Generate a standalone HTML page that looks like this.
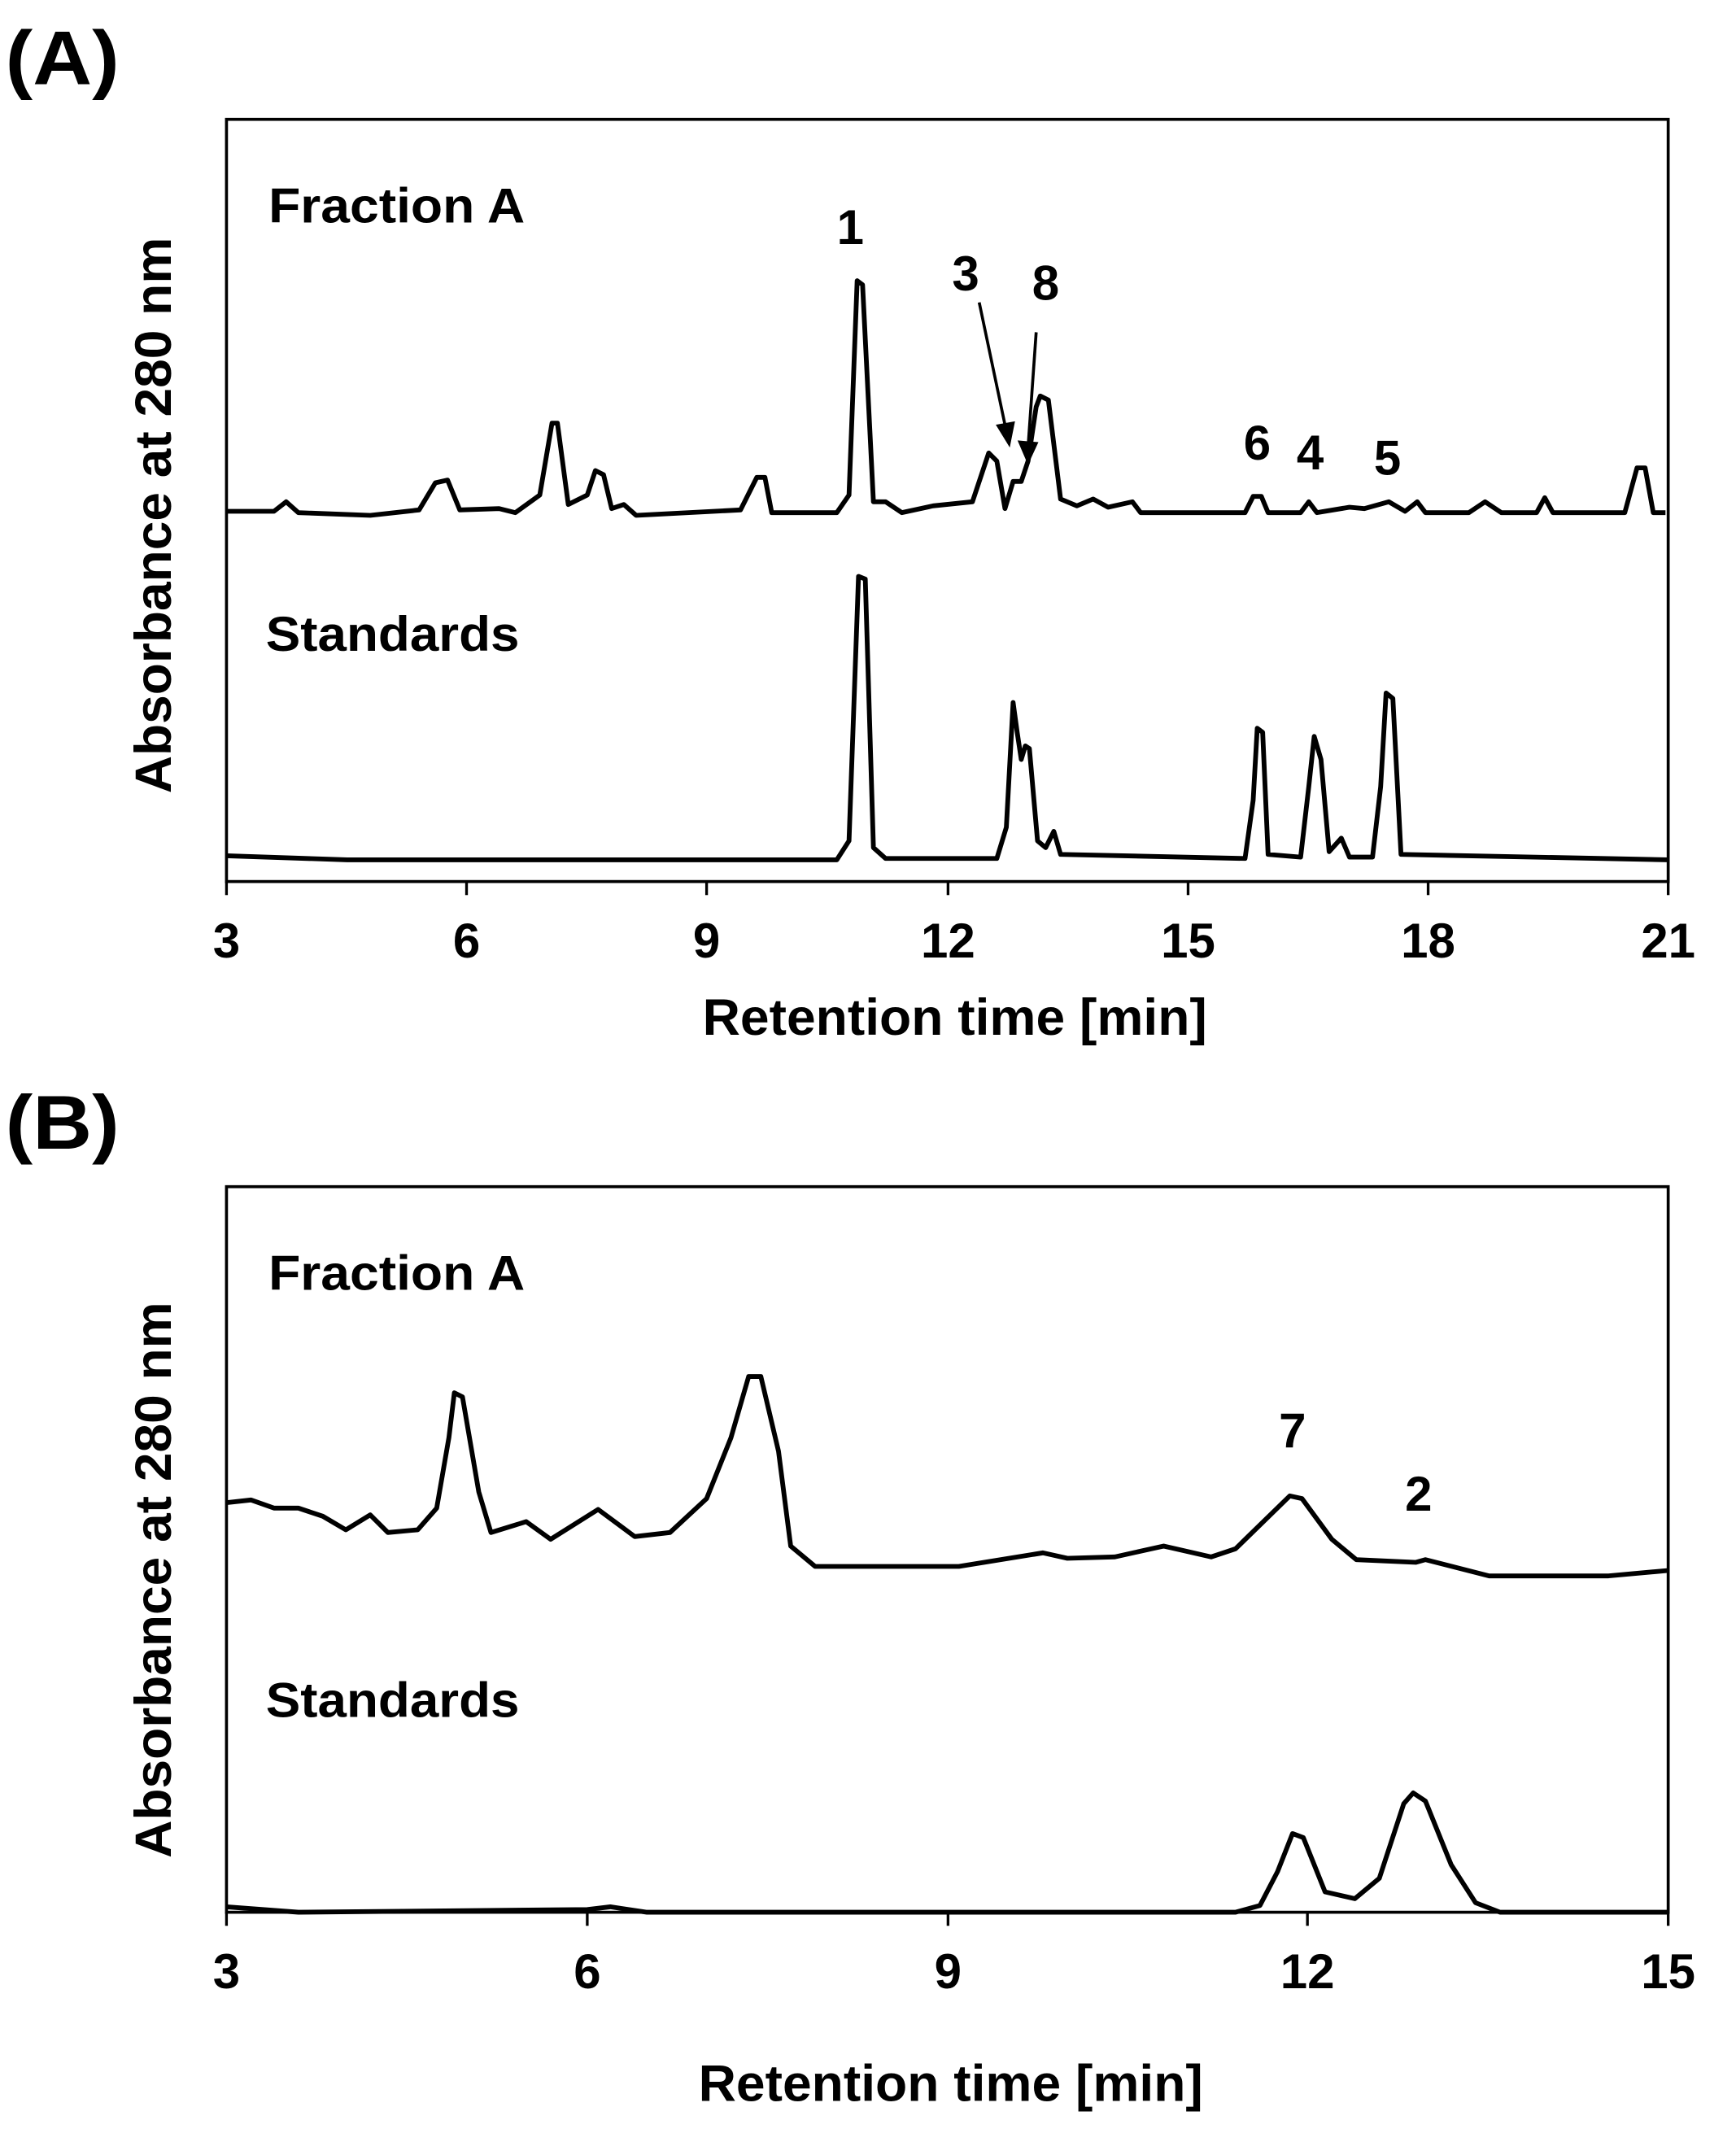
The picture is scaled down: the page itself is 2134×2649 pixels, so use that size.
<!DOCTYPE html>
<html><head><meta charset="utf-8"><style>html,body{margin:0;padding:0;background:#fff}svg{display:block}</style></head>
<body>
<svg width="2134" height="2649" viewBox="0 0 1280 1589" preserveAspectRatio="none" xmlns="http://www.w3.org/2000/svg" font-family="Liberation Sans, Arial, sans-serif" font-weight="bold" fill="#000">
<rect width="1280" height="1589" fill="#fff"/>
<text x="4" y="62" font-size="56" textLength="84" lengthAdjust="spacingAndGlyphs">(A)</text>
<text x="4" y="847" font-size="56" textLength="84" lengthAdjust="spacingAndGlyphs">(B)</text>
<g fill="none" stroke="#000" stroke-width="2.2">
<rect x="167" y="88" width="1063" height="562"/>
<rect x="167" y="875" width="1063" height="535"/>
</g>
<g stroke="#000" stroke-width="2">
<line x1="167" y1="650" x2="167" y2="660"/><line x1="344" y1="650" x2="344" y2="660"/><line x1="521" y1="650" x2="521" y2="660"/><line x1="699" y1="650" x2="699" y2="660"/><line x1="876" y1="650" x2="876" y2="660"/><line x1="1053" y1="650" x2="1053" y2="660"/><line x1="1230" y1="650" x2="1230" y2="660"/>
<line x1="167" y1="1410" x2="167" y2="1420"/><line x1="433" y1="1410" x2="433" y2="1420"/><line x1="699" y1="1410" x2="699" y2="1420"/><line x1="964" y1="1410" x2="964" y2="1420"/><line x1="1230" y1="1410" x2="1230" y2="1420"/>
</g>
<g font-size="36" text-anchor="middle">
<text x="167" y="706">3</text><text x="344" y="706">6</text><text x="521" y="706">9</text><text x="699" y="706">12</text><text x="876" y="706">15</text><text x="1053" y="706">18</text><text x="1230" y="706">21</text>
<text x="167" y="1466">3</text><text x="433" y="1466">6</text><text x="699" y="1466">9</text><text x="964" y="1466">12</text><text x="1230" y="1466">15</text>
<text x="704" y="763" font-size="38" textLength="372" lengthAdjust="spacingAndGlyphs">Retention time [min]</text>
<text x="701" y="1549" font-size="38" textLength="372" lengthAdjust="spacingAndGlyphs">Retention time [min]</text>
<text transform="translate(126,380) rotate(-90)" font-size="38" textLength="410" lengthAdjust="spacingAndGlyphs">Absorbance at 280 nm</text>
<text transform="translate(126,1165) rotate(-90)" font-size="38" textLength="410" lengthAdjust="spacingAndGlyphs">Absorbance at 280 nm</text>
</g>
<g font-size="36">
<text x="198" y="164" textLength="189" lengthAdjust="spacingAndGlyphs">Fraction A</text>
<text x="196" y="480" textLength="187" lengthAdjust="spacingAndGlyphs">Standards</text>
<text x="198" y="951" textLength="189" lengthAdjust="spacingAndGlyphs">Fraction A</text>
<text x="196" y="1266" textLength="187" lengthAdjust="spacingAndGlyphs">Standards</text>
</g>
<g font-size="36" text-anchor="middle">
<text x="627" y="180">1</text><text x="712" y="214">3</text><text x="771" y="221">8</text>
<text x="927" y="339">6</text><text x="966" y="346">4</text><text x="1023" y="350">5</text>
<text x="953" y="1067">7</text><text x="1046" y="1114">2</text>
</g>
<g stroke="#000" stroke-width="2.2" fill="none">
<line x1="722" y1="223" x2="742" y2="318"/><path d="M736 314 L744 327 L747 312 Z" fill="#000"/>
<line x1="764" y1="245" x2="758" y2="330"/><path d="M752 326 L758 340 L764 327 Z" fill="#000"/>
</g>
<g fill="none" stroke="#000" stroke-width="3.5" stroke-linejoin="round">
<polyline points="167,377 202,377 211,370 220,378 273,380 309,376 321,356 330,354 339,376 368,375 380,378 398,365 407,312 411,312 419,372 433,365 439,347 445,350 451,375 460,372 469,380 546,376 558,352 564,352 569,378 617,378 626,365 632,207 636,210 644,370 653,370 665,378 688,373 717,370 729,334 735,340 741,375 747,355 753,355 758,340 764,300 767,292 773,295 782,368 794,373 806,368 817,374 835,370 841,378 918,378 924,366 930,366 935,378 959,378 965,370 971,378 995,374 1006,375 1024,370 1036,377 1045,370 1051,378 1083,378 1095,370 1107,378 1133,378 1139,367 1145,378 1198,378 1207,345 1213,345 1219,378 1228,378"/>
<polyline points="167,631 256,634 617,634 626,620 633,425 638,427 644,625 653,633 735,633 742,610 747,518 750,540 753,560 756,550 759,552 765,620 771,625 777,613 782,630 918,633 924,590 927,537 931,540 935,630 959,632 965,580 969,543 974,560 980,628 989,618 995,632 1012,632 1018,580 1022,511 1027,515 1033,630 1230,634"/>
<polyline points="167,1108 185,1106 202,1112 220,1112 238,1118 255,1128 273,1117 286,1130 308,1128 322,1112 331,1060 335,1027 341,1030 353,1100 362,1130 388,1122 406,1135 441,1113 468,1133 494,1130 521,1105 539,1060 552,1015 561,1015 574,1070 583,1140 601,1155 707,1155 769,1145 787,1149 822,1148 858,1140 893,1148 911,1142 951,1103 960,1105 982,1135 1000,1150 1044,1152 1051,1150 1098,1162 1186,1162 1230,1158"/>
<polyline points="167,1406 220,1410 433,1408 450,1406 477,1410 911,1410 929,1405 942,1380 953,1352 961,1355 977,1395 999,1400 1017,1385 1035,1330 1042,1322 1051,1328 1070,1375 1088,1403 1106,1410 1230,1410"/>
</g>
</svg>
</body></html>
